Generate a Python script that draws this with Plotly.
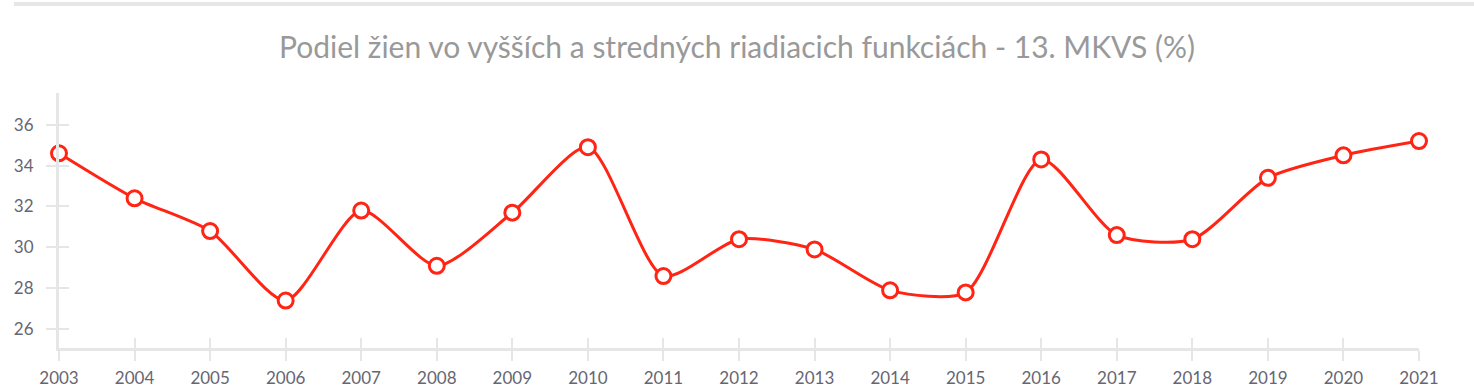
import plotly.graph_objects as go

years = list(range(2003, 2022))
values = [34.6, 32.4, 30.8, 27.4, 31.8, 29.1, 31.7, 34.9, 28.6, 30.4,
          29.9, 27.9, 27.8, 34.3, 30.6, 30.4, 33.4, 34.5, 35.2]
y_ticks = [26, 28, 30, 32, 34, 36]
title = "Podiel žien vo vyšších a stredných riadiacich funkciách - 13. MKVS (%)"

RED = "#ff2414"
AXIS = "#e6e6e6"
LABEL = "#666672"
FONT = "Lato"
YR = [25.08, 37.55]
XR = [2003, 2021]
L, R, T, B = 59, 55, 93, 40
W, H = 1474, 388
PW, PH = W - L - R, H - T - B

fig = go.Figure()
fig.add_trace(go.Scatter(
    x=years, y=values, mode="lines+markers",
    line=dict(color=RED, width=3, shape="spline", smoothing=0.7),
    marker=dict(size=15, color="white", line=dict(color=RED, width=3)),
    cliponaxis=False, showlegend=False,
))
# invisible trace to anchor the secondary (inside tick) axes
fig.add_trace(go.Scatter(
    x=years, y=values, xaxis="x2", yaxis="y2", mode="markers",
    marker=dict(opacity=0), hoverinfo="skip", showlegend=False,
))

fig.update_layout(
    width=W, height=H,
    margin=dict(l=L, r=R, t=T, b=B, autoexpand=False),
    paper_bgcolor="white", plot_bgcolor="white",
    font=dict(family=FONT),
    title=dict(text=title, x=0.5, xanchor="center", y=1 - 47 / H, yanchor="middle",
               font=dict(family=FONT, size=30, color="#999999")),
    xaxis=dict(range=XR, tickvals=years, ticktext=[str(y) for y in years],
               showgrid=False, zeroline=False, showline=True, linecolor=AXIS, linewidth=3,
               ticks="outside", ticklen=10, tickwidth=2, tickcolor=AXIS,
               ticklabelstandoff=3, automargin=False,
               tickfont=dict(family=FONT, size=17, color=LABEL)),
    yaxis=dict(range=YR, tickvals=y_ticks,
               showgrid=False, zeroline=False, showline=True, linecolor=AXIS, linewidth=3,
               ticks="outside", ticklen=10, tickwidth=2, tickcolor=AXIS,
               ticklabelstandoff=9, automargin=False,
               tickfont=dict(family=FONT, size=17, color=LABEL)),
    xaxis2=dict(range=XR, overlaying="x", tickvals=years, showticklabels=False,
                showgrid=False, zeroline=False, showline=False, automargin=False,
                ticks="inside", ticklen=10, tickwidth=2, tickcolor=AXIS, side="bottom", anchor="y2"),
    yaxis2=dict(range=YR, overlaying="y", tickvals=y_ticks, showticklabels=False,
                showgrid=False, zeroline=False, showline=False, automargin=False,
                ticks="inside", ticklen=10, tickwidth=2, tickcolor=AXIS, side="left", anchor="x2"),
    shapes=[dict(type="line", xref="paper", yref="paper",
                 x0=(14 - L) / PW, x1=(W - L) / PW,
                 y0=(H - B - 4) / PH, y1=(H - B - 4) / PH,
                 line=dict(color=AXIS, width=4))],
)

fig.write_html("out.html", config={"displayModeBar": False},
               post_script="document.body.style.margin='0';")
